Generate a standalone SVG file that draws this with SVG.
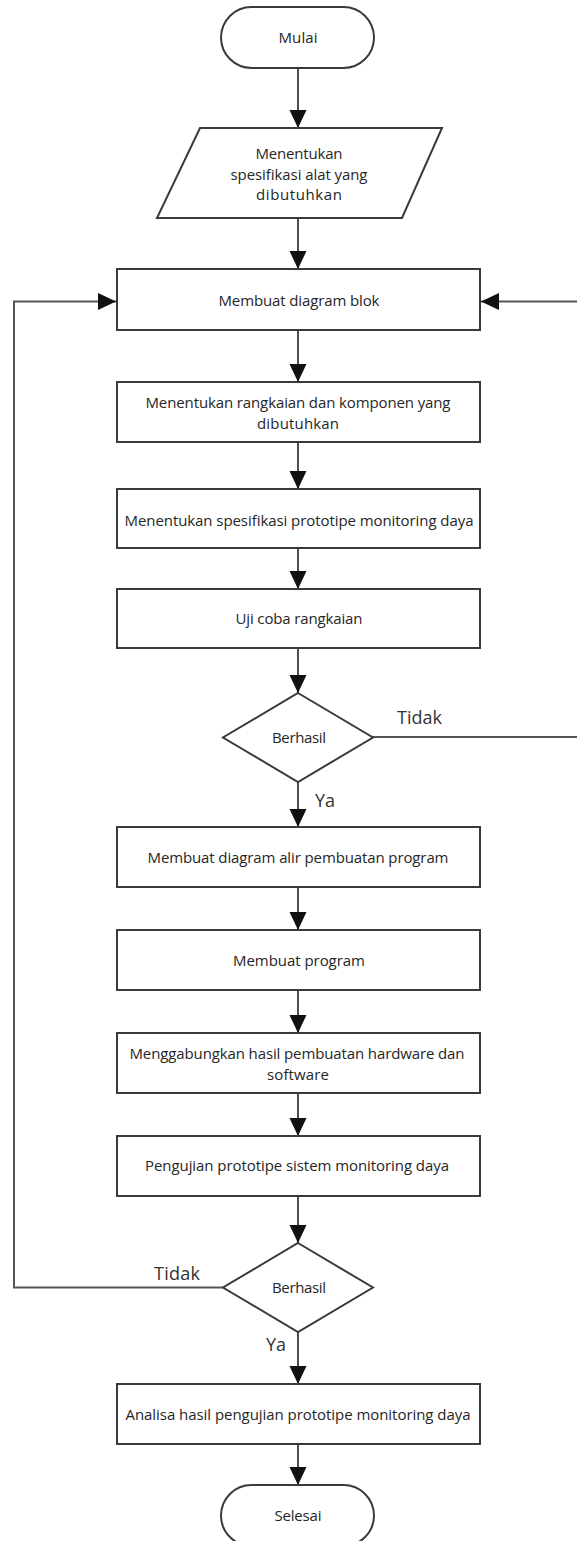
<svg xmlns="http://www.w3.org/2000/svg" width="577" height="1541" viewBox="0 0 577 1541">
<defs>
<marker id="arr" markerUnits="userSpaceOnUse" markerWidth="20" markerHeight="18" refX="18" refY="8.5" orient="auto">
<path d="M0,0 L18,8.5 L0,17 Z" fill="#111"/>
</marker>
<style>
.shape{fill:#fff;stroke:#3a3a3a;stroke-width:2}
.t{font-family:"Open Sans","Liberation Sans",sans-serif;font-size:15px;fill:#262626;text-anchor:middle;dominant-baseline:central}
.lbl{font-family:"Open Sans","Liberation Sans",sans-serif;font-size:18px;fill:#333;text-anchor:start;dominant-baseline:central}
.c{fill:none;stroke:#222;stroke-width:1.6}
.loop{fill:none;stroke:#555;stroke-width:2}
</style>
</defs>
<rect width="577" height="1541" fill="#fff"/>

<g id="connectors">
<line class="c" x1="298" y1="68" x2="298" y2="128" marker-end="url(#arr)"/>
<line class="c" x1="298" y1="218" x2="298" y2="269" marker-end="url(#arr)"/>
<line class="c" x1="298" y1="330" x2="298" y2="382" marker-end="url(#arr)"/>
<line class="c" x1="298" y1="442" x2="298" y2="489" marker-end="url(#arr)"/>
<line class="c" x1="298" y1="548" x2="298" y2="589" marker-end="url(#arr)"/>
<line class="c" x1="298" y1="648" x2="298" y2="693" marker-end="url(#arr)"/>
<line class="c" x1="298" y1="782" x2="298" y2="827" marker-end="url(#arr)"/>
<line class="c" x1="298" y1="887" x2="298" y2="930" marker-end="url(#arr)"/>
<line class="c" x1="298" y1="990" x2="298" y2="1033" marker-end="url(#arr)"/>
<line class="c" x1="298" y1="1093" x2="298" y2="1136" marker-end="url(#arr)"/>
<line class="c" x1="298" y1="1196" x2="298" y2="1243" marker-end="url(#arr)"/>
<line class="c" x1="298" y1="1332" x2="298" y2="1384" marker-end="url(#arr)"/>
<line class="c" x1="298" y1="1444" x2="298" y2="1485" marker-end="url(#arr)"/>
<path class="loop" d="M373,737 H580 V301.5 H481" marker-end="url(#arr)"/>
<path class="loop" d="M223,1287.5 H14 V301.5 H116" marker-end="url(#arr)"/>
<text class="lbl" x="397" y="717" textLength="45">Tidak</text>
<text class="lbl" x="315" y="800" textLength="20">Ya</text>
<text class="lbl" x="154" y="1273" textLength="46">Tidak</text>
<text class="lbl" x="266" y="1344" textLength="20">Ya</text>
</g>

<g id="mulai">
<rect class="shape" x="221" y="7" width="153" height="61" rx="30.5" ry="30.5"/>
<text class="t" x="298" y="37" textLength="39">Mulai</text>
</g>

<g id="spesifikasi-alat">
<polygon class="shape" points="200,128 442,128 402,218 157,218"/>
<text class="t" x="299" y="153" textLength="87">Menentukan</text>
<text class="t" x="299" y="174" textLength="137">spesifikasi alat yang</text>
<text class="t" x="299" y="194" textLength="86">dibutuhkan</text>
</g>

<g id="diagram-blok">
<rect class="shape" x="117" y="269" width="363" height="61"/>
<text class="t" x="299" y="300" textLength="161">Membuat diagram blok</text>
</g>

<g id="rangkaian-komponen">
<rect class="shape" x="117" y="382" width="363" height="60"/>
<text class="t" x="298" y="402" textLength="305">Menentukan rangkaian dan komponen yang</text>
<text class="t" x="298" y="423" textLength="82">dibutuhkan</text>
</g>

<g id="spesifikasi-prototipe">
<rect class="shape" x="117" y="489" width="363" height="59"/>
<text class="t" x="299" y="520" textLength="349">Menentukan spesifikasi prototipe monitoring daya</text>
</g>

<g id="uji-coba">
<rect class="shape" x="117" y="589" width="363" height="59"/>
<text class="t" x="299" y="618" textLength="127">Uji coba rangkaian</text>
</g>

<g id="berhasil-1">
<polygon class="shape" points="298,693 373,737.5 298,782 223,737.5"/>
<text class="t" x="299" y="737" textLength="54">Berhasil</text>
</g>

<g id="diagram-alir">
<rect class="shape" x="117" y="827" width="363" height="60"/>
<text class="t" x="298" y="857" textLength="301">Membuat diagram alir pembuatan program</text>
</g>

<g id="membuat-program">
<rect class="shape" x="117" y="930" width="363" height="60"/>
<text class="t" x="299" y="960" textLength="132">Membuat program</text>
</g>

<g id="menggabungkan">
<rect class="shape" x="117" y="1033" width="363" height="60"/>
<text class="t" x="297" y="1053" textLength="335">Menggabungkan hasil pembuatan hardware dan</text>
<text class="t" x="298" y="1074" textLength="62">software</text>
</g>

<g id="pengujian">
<rect class="shape" x="117" y="1136" width="363" height="60"/>
<text class="t" x="297" y="1165" textLength="304">Pengujian prototipe sistem monitoring daya</text>
</g>

<g id="berhasil-2">
<polygon class="shape" points="298,1243 373,1287.5 298,1332 223,1287.5"/>
<text class="t" x="299" y="1287" textLength="54">Berhasil</text>
</g>

<g id="analisa">
<rect class="shape" x="117" y="1384" width="363" height="60"/>
<text class="t" x="298" y="1414" textLength="345">Analisa hasil pengujian prototipe monitoring daya</text>
</g>

<g id="selesai">
<rect class="shape" x="221" y="1485" width="153" height="61" rx="30.5" ry="30.5"/>
<text class="t" x="298" y="1515" textLength="47">Selesai</text>
</g>
</svg>
